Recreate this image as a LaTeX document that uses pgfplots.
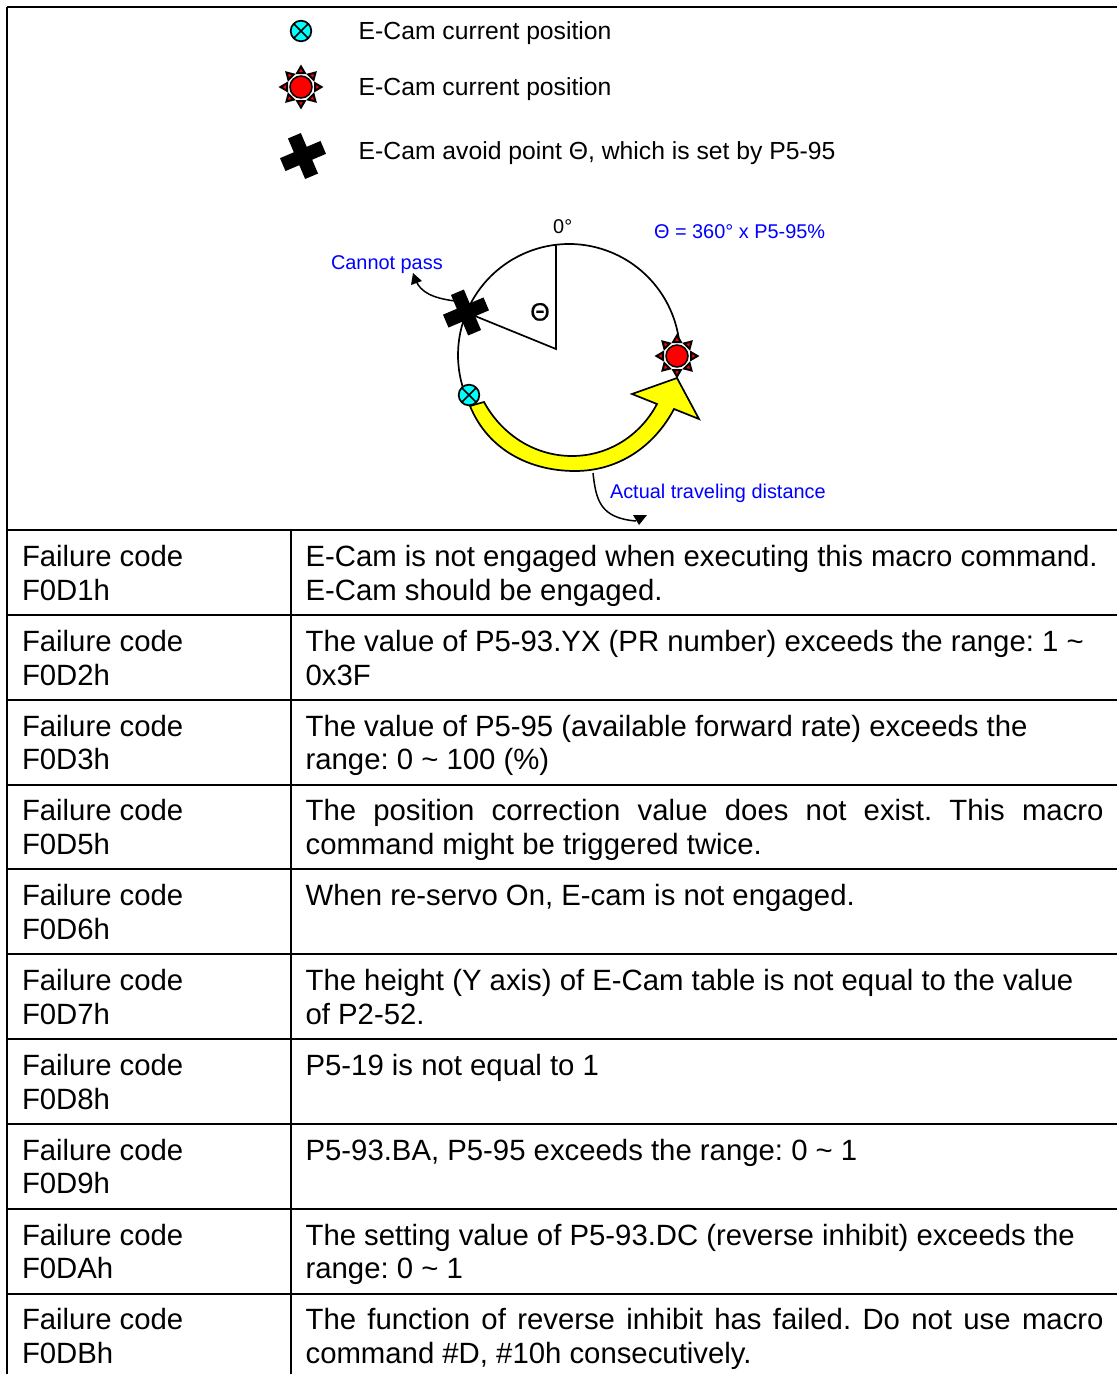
\documentclass[border=0pt]{standalone}
\usepackage{pgfplots}
\pgfplotsset{compat=1.18}
\usepackage{fontspec}
\setmainfont{Liberation Sans}
\definecolor{cy}{RGB}{0,255,255}
\definecolor{yl}{RGB}{255,255,0}
\definecolor{rd}{RGB}{255,0,0}
\definecolor{bl}{RGB}{0,0,255}
\newcommand\bigf{\fontsize{29.32}{34}\selectfont\frenchspacing}
\newcommand\midf{\fontsize{24.72}{30}\selectfont\frenchspacing}
\newcommand\smf{\fontsize{19.9}{25}\selectfont\frenchspacing}
\newcommand\Tx[3]{\node[anchor=base west,inner sep=0pt,outer sep=0pt] at (axis cs:#1,#2) {\bigf #3};}
\newcommand\Js[3]{\node[anchor=base west,inner sep=0pt,outer sep=0pt] at (axis cs:#1,#2) {\bigf\makebox[798pt][s]{#3}};}
\newcommand\Fc[3]{\Tx{22}{#1}{Failure code}\Tx{22}{#2}{#3}}
\newcommand\Lg[3]{\node[anchor=base west,inner sep=0pt,outer sep=0pt] at (axis cs:#1,#2) {\midf #3};}
\newcommand\Bl[3]{\node[anchor=base west,inner sep=0pt,outer sep=0pt,text=bl] at (axis cs:#1,#2) {\smf #3};}
\newcommand\Cross[2]{\begin{scope}[shift={(axis cs:#1,#2)},x=1pt,y=1pt,rotate=23]
\fill[black] (-7,-22)--(7,-22)--(7,-7)--(22,-7)--(22,7)--(7,7)--(7,22)--(-7,22)--(-7,7)--(-22,7)--(-22,-7)--(-7,-7)--cycle;
\end{scope}}
\newcommand\Ball[2]{\begin{scope}[shift={(axis cs:#1,#2)},x=1pt,y=1pt]
\filldraw[fill=cy,draw=black,line width=1.7pt] (0,0) circle (10.3);
\draw[line width=1.6pt] (-7.2,-7.2)--(7.2,7.2) (-7.2,7.2)--(7.2,-7.2);
\end{scope}}
\newcommand\Ray[1]{\filldraw[fill=rd,draw=black,line width=2pt,rotate=#1,line join=miter] (14,-3.8)--(20.5,0)--(14,3.8)--cycle;}
\newcommand\Sun[2]{\begin{scope}[shift={(axis cs:#1,#2)},x=1pt,y=1pt]
\Ray{0}\Ray{45}\Ray{90}\Ray{135}\Ray{180}\Ray{225}\Ray{270}\Ray{315}
\filldraw[fill=rd,draw=black,line width=1.5pt] (0,0) circle (11);
\end{scope}}
\begin{document}
\begin{tikzpicture}
\begin{axis}[
  scale only axis, width=1117pt, height=1374pt,
  xmin=0, xmax=1117, ymin=0, ymax=1374, y dir=reverse,
  hide axis, clip=true,
]
\path (axis cs:0,0) rectangle (axis cs:1117,1374);
% table rules
\addplot[black,line width=2pt,no marks] coordinates {(7,7) (1117,7)};
\addplot[black,line width=2pt,no marks] coordinates {(7,7) (7,1374)};
\addplot[black,line width=2pt,no marks] coordinates {(291,530) (291,1374)};
\addplot[black,line width=2pt,no marks] coordinates {(7,530) (1117,530)};
\addplot[black,line width=2pt,no marks] coordinates {(7,615) (1117,615)};
\addplot[black,line width=2pt,no marks] coordinates {(7,700) (1117,700)};
\addplot[black,line width=2pt,no marks] coordinates {(7,785) (1117,785)};
\addplot[black,line width=2pt,no marks] coordinates {(7,869) (1117,869)};
\addplot[black,line width=2pt,no marks] coordinates {(7,954) (1117,954)};
\addplot[black,line width=2pt,no marks] coordinates {(7,1039) (1117,1039)};
\addplot[black,line width=2pt,no marks] coordinates {(7,1124) (1117,1124)};
\addplot[black,line width=2pt,no marks] coordinates {(7,1209) (1117,1209)};
\addplot[black,line width=2pt,no marks] coordinates {(7,1294) (1117,1294)};
% theta wedge
\addplot[black,line width=1.7pt,no marks] coordinates {(556,244) (556,349) (475,316)};
% circle
\draw[line width=1.7pt] (axis cs:569,355) ++(157.3:111pt) arc[start angle=157.3,end angle=7.8,radius=111pt];
\draw[line width=1.7pt] (axis cs:569,355) ++(157.3:111pt) arc[start angle=157.3,end angle=201.8,radius=111pt];
% yellow arrow
\filldraw[fill=yl,draw=black,line width=1.7pt,line join=miter]
 (axis cs:470,406) .. controls (axis cs:488,450) and (axis cs:530,471) .. (axis cs:575,471)
 .. controls (axis cs:620,471) and (axis cs:655,445) .. (axis cs:674,409)
 -- (axis cs:699,419) -- (axis cs:677,378) -- (axis cs:632,394) -- (axis cs:657,404)
 .. controls (axis cs:640,436) and (axis cs:608,456) .. (axis cs:572,456)
 .. controls (axis cs:535,456) and (axis cs:502,435) .. (axis cs:484,402) -- cycle;
% callouts
\draw[line width=1.5pt] (axis cs:455,301) .. controls (axis cs:432,298) and (axis cs:421,292) .. (axis cs:416,281);
\fill (axis cs:413,273) -- (axis cs:411,285) -- (axis cs:422,281) -- cycle;
\draw[line width=1.5pt] (axis cs:593,473) .. controls (axis cs:596,500) and (axis cs:600,518) .. (axis cs:636,521);
\fill (axis cs:633,515) -- (axis cs:647,515) -- (axis cs:639,525) -- cycle;
% symbols
\Ball{301}{31}
\Sun{301}{87}
\Cross{303}{156}
\Cross{466}{312.5}
\Ball{469}{395}
\Sun{677}{356}
% legend
\Lg{358.7}{39}{E-Cam current position}
\Lg{358.7}{95}{E-Cam current position}
\Lg{358.7}{159}{E-Cam avoid point Θ, which is set by P5-95}
\Bl{654}{238}{Θ = 360° x P5-95\%}
\Bl{331}{269}{Cannot pass}
\Bl{610}{498}{Actual traveling distance}
\node[anchor=base west,inner sep=0pt] at (axis cs:553,233) {\smf 0°};
\node[anchor=base,inner sep=0pt] at (axis cs:540,320.5) {\fontsize{25}{25}\selectfont\addfontfeature{FakeBold=0.6}Θ};
% table text
\Fc{566}{600}{F0D1h}
\Fc{651}{685}{F0D2h}
\Fc{736}{769}{F0D3h}
\Fc{820}{854}{F0D5h}
\Fc{905}{939}{F0D6h}
\Fc{990}{1024}{F0D7h}
\Fc{1075}{1109}{F0D8h}
\Fc{1160}{1193}{F0D9h}
\Fc{1245}{1278}{F0DAh}
\Fc{1329}{1363}{F0DBh}
\Tx{305.6}{566}{E-Cam is not engaged when executing this macro command.}
\Tx{305.6}{600}{E-Cam should be engaged.}
\Tx{305.6}{651}{The value of P5-93.YX (PR number) exceeds the range: 1 \textasciitilde}
\Tx{305.6}{685}{0x3F}
\Tx{305.6}{736}{The value of P5-95 (available forward rate) exceeds the}
\Tx{305.6}{769}{range: 0 \textasciitilde\ 100 (\%)}
\Js{305.6}{820}{The position correction value does not exist. This macro}
\Tx{305.6}{854}{command might be triggered twice.}
\Tx{305.6}{905}{When re-servo On, E-cam is not engaged.}
\Tx{305.6}{990}{The height (Y axis) of E-Cam table is not equal to the value}
\Tx{305.6}{1024}{of P2-52.}
\Tx{305.6}{1075}{P5-19 is not equal to 1}
\Tx{305.6}{1160}{P5-93.BA, P5-95 exceeds the range: 0 \textasciitilde\ 1}
\Tx{305.6}{1245}{The setting value of P5-93.DC (reverse inhibit) exceeds the}
\Tx{305.6}{1278}{range: 0 \textasciitilde\ 1}
\Js{305.6}{1329}{The function of reverse inhibit has failed. Do not use macro}
\Tx{305.6}{1363}{command \#D, \#10h consecutively.}
\end{axis}
\end{tikzpicture}
\end{document}
